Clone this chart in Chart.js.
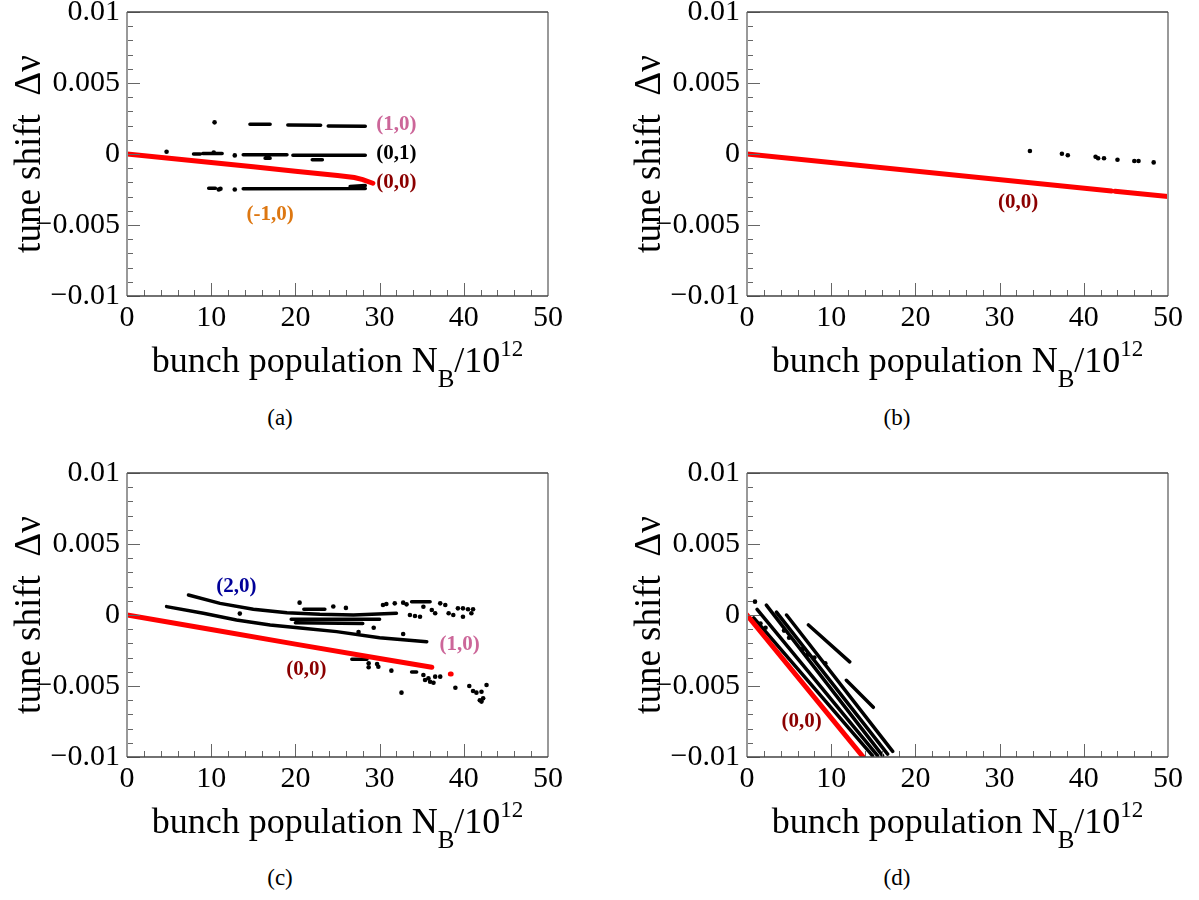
<!DOCTYPE html>
<html>
<head>
<meta charset="utf-8">
<script src="https://cdn.jsdelivr.net/npm/chart.js@4.4.1/dist/chart.umd.min.js"></script>
<style>
  body { margin: 0; background: #fff; overflow: hidden; width: 1199px; height: 900px; position: relative; font-family: 'Liberation Serif', serif; }
  canvas { position: absolute; }
  .pie { position: absolute; width: 100px; text-align: center; font-size: 23px; color: #000; }
</style>
</head>
<body>
<canvas id="grafica_a" width="570" height="410" style="left:0px;top:-18px"></canvas>
<canvas id="grafica_b" width="570" height="410" style="left:620px;top:-18px"></canvas>
<canvas id="grafica_c" width="570" height="410" style="left:0px;top:443px"></canvas>
<canvas id="grafica_d" width="570" height="410" style="left:620px;top:443px"></canvas>
<div class="pie" style="left:230px;top:405px">(a)</div>
<div class="pie" style="left:847px;top:405px">(b)</div>
<div class="pie" style="left:230px;top:865px">(c)</div>
<div class="pie" style="left:847px;top:865px">(d)</div>

<script>
// ejes (iguales en las cuatro graficas)
const ticksX = [0, 10, 20, 30, 40, 50];
const etiquetasX = ['0', '10', '20', '30', '40', '50'];
const ticksY = [-0.01, -0.005, 0, 0.005, 0.01];
const etiquetasY = ['\u22120.01', '\u22120.005', '0', '0.005', '0.01'];

// (a) modo (0,0) en rojo
const rojoA = [[0, 0], [5, -0.0003], [10, -0.0006], [15, -0.0009], [20, -0.00122], [25, -0.00152], [27, -0.00166], [28, -0.0018], [29.2, -0.00206]];
// (a) puntos sueltos y tramos de los modos (1,0), (0,1), (-1,0)
const puntosA = [[10.4, 0.00223], [4.7, 0.00016], [12.8, -0.0001], [10.3, 0.0001], [12.8, -0.0025], [11.1, -0.00245], [10.9, -0.0025]];
const tramosA = [
  [[14.6, 0.0021], [17.0, 0.0021]],
  [[19.1, 0.00204], [23.0, 0.00203]],
  [[23.9, 0.00197], [28.3, 0.00195]],
  [[7.9, 0], [8.7, 0]],
  [[9.0, 0.00003], [11.3, 0.00003]],
  [[13.8, -0.00005], [19.0, -0.00005]],
  [[19.7, -0.00008], [28.3, -0.00008]],
  [[16.4, -0.0003], [17.0, -0.0003]],
  [[22.0, -0.0004], [23.2, -0.0004]],
  [[9.7, -0.00242], [10.5, -0.00242]],
  [[13.8, -0.00245], [28.3, -0.00243]],
  [[26.5, -0.00228], [28.3, -0.00222]]
];

// (b)
const rojoB = [[0, 0], [43.3, -0.0026], [null, null], [43.7, -0.00262], [50, -0.003]];
const puntosB = [[33.6, 0.00021], [37.4, 0.00002], [38.1, -0.00009], [41.4, -0.00019], [41.7, -0.0003], [42.4, -0.0003], [44.0, -0.0004], [46.0, -0.00049], [46.5, -0.00049], [48.3, -0.00059]];
const tramosB = [];

// (c)
const rojoC = [[0, 0], [10, -0.00102], [20, -0.00205], [30, -0.00306], [36.2, -0.00368], [null, null], [38.4, -0.00415], [38.5, -0.00415]];
const puntosC = [
  [30.4, 0.0007], [30.8, 0.00077], [31.8, 0.00082], [32.8, 0.00087], [33.2, 0.00075], [35.2, 0.00058], [36.2, 0.00035],
  [36.6, 0.00012], [37.2, 0.00082], [37.8, 0.0007], [38.2, 0.00012], [38.75, 0], [39.3, 0.00047], [39.9, 0.00047],
  [40.5, 0.0004], [41.1, 0.0004], [39.9, -0.00012], [40.9, 0.00012], [34.8, -0.00012], [34.2, -0.00007], [33.6, 0],
  [32.8, -0.00134], [28.7, -0.0034], [29.7, -0.00345], [29.85, -0.00364], [28.7, -0.00368], [31.4, -0.00392],
  [32.6, -0.00547], [35.2, -0.00423], [35.4, -0.00458], [36.0, -0.0047], [36.4, -0.00477], [36.6, -0.00434],
  [37.2, -0.00434], [35.8, -0.00446], [39.0, -0.00512], [40.65, -0.005], [41.1, -0.00535], [41.5, -0.00547],
  [42.1, -0.0054], [41.9, -0.006], [42.3, -0.00587], [42.7, -0.00493], [42.1, -0.0061],
  [20.5, 0.00087], [24.5, 0.0006], [26.0, 0.0005], [13.4, 0.0001], [27.5, -0.0012], [29.3, -0.0009]
];
const tramosC = [
  [[7.3, 0.00141], [11.05, 0.00082], [15.0, 0.0004], [19.0, 0.00016], [22.9, 0.00005], [26.9, 0.0], [32.0, 0.00012]],
  [[4.7, 0.00059], [9.07, 0.00012], [13.0, -0.00035], [17.0, -0.0007], [20.9, -0.00094], [24.9, -0.00117], [30.0, -0.0016], [35.6, -0.00188]],
  [[19.5, -0.0003], [30.0, -0.0003]],
  [[20.0, -0.00055], [28.0, -0.0006]],
  [[21.0, 0.0004], [23.5, 0.0004]],
  [[33.8, 0.00094], [36.0, 0.00094]],
  [[26.7, -0.00312], [28.5, -0.00312]],
  [[33.8, -0.00401], [34.4, -0.00401]]
];

// (d)
const rojoD = [[0, 0], [13.8, -0.01]];
const puntosD = [[0.95, 0.00094], [1.6, -0.0006], [2.2, -0.0009], [4.4, -0.0011], [5.0, -0.0016], [6.6, -0.0024], [7.2, -0.0028], [8.0, -0.003], [9.3, -0.0034]];
const tramosD = [
  [[0.8, -0.0002], [14.9, -0.0099]],
  [[1.2, 0.0004], [15.5, -0.0099]],
  [[2.3, 0.0007], [16.1, -0.0099]],
  [[3.5, 0.0002], [16.7, -0.0098]],
  [[4.7, 0.0], [17.3, -0.0096]],
  [[7.3, -0.0007], [12.2, -0.0033]],
  [[11.8, -0.0046], [15.0, -0.0065]]
];

// textos de los modos sobre cada grafica
const textosA = [['(1,0)', 32.0, 0.00204, '#cc6699'], ['(0,1)', 32.0, 0, '#000000'], ['(0,0)', 32.0, -0.00204, '#8b0000'], ['(-1,0)', 17.0, -0.0043, '#dd7711']];
const textosB = [['(0,0)', 32.2, -0.00345, '#8b0000']];
const textosC = [['(2,0)', 13.0, 0.002, '#000099'], ['(1,0)', 39.5, -0.00211, '#cc6699'], ['(0,0)', 21.3, -0.00387, '#8b0000']];
const textosD = [['(0,0)', 6.5, -0.0075, '#8b0000']];

const fuente = '"Liberation Serif", serif';

let aObjetos = (lista) => lista.map(p => ({ x: p[0], y: p[1] }));

let tramosAObjetos = (tramos) => {
  let salida = [];
  tramos.forEach(t => {
    t.forEach(p => salida.push({ x: p[0], y: p[1] }));
    salida.push({ x: null, y: null });
  });
  return salida;
};

// marco, marcas internas, titulo del eje x y textos
let pluginMarco = (textos) => ({
  id: 'marco',
  afterDraw(chart) {
    const ctx = chart.ctx;
    const a = chart.chartArea;
    const ex = chart.scales.x, ey = chart.scales.y;
    ctx.save();
    // marcas hacia dentro
    ctx.strokeStyle = '#666';
    ctx.lineWidth = 1;
    ctx.beginPath();
    for (let v = -0.01; v <= 0.01001; v += 0.001) {
      const py = Math.round(ey.getPixelForValue(v)) + 0.5;
      const mayor = Math.abs(v / 0.005 - Math.round(v / 0.005)) < 1e-6;
      ctx.moveTo(a.left, py);
      ctx.lineTo(a.left + (mayor ? 13 : 6), py);
    }
    for (let v = 0; v <= 50; v += 2) {
      const px = Math.round(ex.getPixelForValue(v)) + 0.5;
      ctx.moveTo(px, a.bottom);
      ctx.lineTo(px, a.bottom - (v % 10 === 0 ? 13 : 6));
    }
    ctx.stroke();
    // ejes y marco
    ctx.strokeStyle = '#999';
    ctx.lineWidth = 2;
    ctx.beginPath();
    ctx.moveTo(a.left, a.top);
    ctx.lineTo(a.left, a.bottom);
    ctx.moveTo(a.right, a.top);
    ctx.lineTo(a.right, a.bottom);
    ctx.stroke();
    ctx.strokeStyle = '#444';
    ctx.lineWidth = 1.5;
    ctx.beginPath();
    ctx.moveTo(a.left, a.top);
    ctx.lineTo(a.right, a.top);
    ctx.moveTo(a.left, a.bottom);
    ctx.lineTo(a.right, a.bottom);
    ctx.stroke();

    // titulo del eje x con subindice y exponente
    const partes = [
      ['bunch population N', 36, 0],
      ['B', 25, 15],
      ['/10', 36, 0],
      ['12', 23, -16]
    ];
    let ancho = 0;
    partes.forEach(p => { ctx.font = p[1] + 'px ' + fuente; ancho += ctx.measureText(p[0]).width; });
    let px = (a.left + a.right) / 2 - ancho / 2;
    const base = a.bottom + 76;
    ctx.fillStyle = '#000';
    ctx.textBaseline = 'alphabetic';
    ctx.textAlign = 'left';
    partes.forEach(p => {
      ctx.font = p[1] + 'px ' + fuente;
      ctx.fillText(p[0], px, base + p[2]);
      px += ctx.measureText(p[0]).width;
    });

    // nombres de los modos
    ctx.font = 'bold 21px ' + fuente;
    ctx.textAlign = 'center';
    ctx.textBaseline = 'middle';
    textos.forEach(t => {
      ctx.fillStyle = t[3];
      ctx.fillText(t[0], ex.getPixelForValue(t[1]), ey.getPixelForValue(t[2]));
    });
    ctx.restore();
  }
});

let crearGrafica = (id, rojo, puntos, tramos, textos) => {
  const config = {
    type: 'scatter',
    data: {
      datasets: [
        {
          label: 'tramos',
          data: tramosAObjetos(tramos),
          showLine: true,
          spanGaps: false,
          borderColor: '#000',
          borderWidth: 3.5,
          borderCapStyle: 'round',
          pointRadius: 0,
          order: 3
        },
        {
          label: 'puntos',
          data: aObjetos(puntos),
          backgroundColor: '#000',
          borderWidth: 0,
          pointRadius: 2.3,
          order: 2
        },
        {
          label: '(0,0)',
          data: aObjetos(rojo),
          showLine: true,
          spanGaps: false,
          borderColor: '#ff0000',
          backgroundColor: '#ff0000',
          borderWidth: 5,
          borderCapStyle: 'round',
          pointRadius: 0,
          order: 1
        }
      ]
    },
    options: {
      responsive: false,
      animation: false,
      devicePixelRatio: 1,
      layout: { padding: { top: 30, right: 22, left: 0, bottom: 0 } },
      plugins: { legend: { display: false }, tooltip: { enabled: false } },
      scales: {
        x: {
          type: 'linear',
          min: 0,
          max: 50,
          afterBuildTicks: (eje) => { eje.ticks = ticksX.map(v => ({ value: v })); },
          afterFit: (eje) => { eje.height = 96; },
          grid: { display: false, drawTicks: false },
          border: { display: false },
          ticks: {
            padding: 4,
            color: '#000',
            font: { family: fuente, size: 30 },
            maxRotation: 0,
            callback: (v) => etiquetasX[ticksX.indexOf(v)]
          }
        },
        y: {
          type: 'linear',
          min: -0.01,
          max: 0.01,
          afterBuildTicks: (eje) => { eje.ticks = ticksY.map(v => ({ value: v })); },
          afterFit: (eje) => { eje.width = 127; },
          grid: { display: false, drawTicks: false },
          border: { display: false },
          title: {
            display: true,
            text: 'tune shift  \u0394\u03bd',
            color: '#000',
            font: { family: fuente, size: 37 },
            padding: { top: 8, bottom: 0 }
          },
          ticks: {
            padding: 7,
            color: '#000',
            font: { family: fuente, size: 30 },
            callback: (v) => etiquetasY[ticksY.indexOf(v)]
          }
        }
      }
    },
    plugins: [pluginMarco(textos)]
  };
  new Chart(document.getElementById(id), config);
};

crearGrafica('grafica_a', rojoA, puntosA, tramosA, textosA);
crearGrafica('grafica_b', rojoB, puntosB, tramosB, textosB);
crearGrafica('grafica_c', rojoC, puntosC, tramosC, textosC);
crearGrafica('grafica_d', rojoD, puntosD, tramosD, textosD);
</script>
</body>
</html>
